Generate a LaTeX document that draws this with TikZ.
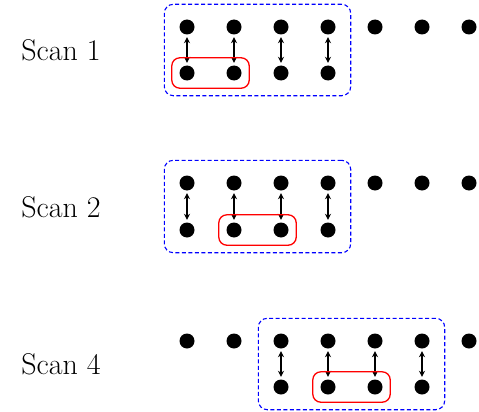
\documentclass[tikz,border=0pt]{standalone}
\usetikzlibrary{fit,arrows.meta}
\begin{document}
\begin{tikzpicture}[x=1pt,y=-1pt,
  dot/.style={circle,fill=black,draw=none,minimum size=15pt,inner sep=0pt},
  link/.style={{Stealth[length=6pt,width=6pt]}-{Stealth[length=6pt,width=6pt]},line width=1.5pt,shorten <=2.5pt,shorten >=2.5pt},
  scanbox/.style={draw=blue,dashed,dash pattern=on 4pt off 2.5pt,line width=1.1pt,rounded corners=9pt,inner sep=15pt},
  pairbox/.style={draw=red,line width=1.3pt,rounded corners=8pt,inner sep=7.5pt},
  lab/.style={font=\fontsize{30}{34}\selectfont,anchor=center}]
\useasboundingbox (0,0) rectangle (479,412);
% Scan 1
\node[lab] (l1) at (61,50) {Scan 1};
\foreach \i/\x in {1/187,2/234,3/281,4/328,5/375,6/422,7/469}
  \node[dot] (a\i) at (\x,27) {};
\foreach \i/\x in {1/187,2/234,3/281,4/328}
  \node[dot] (b\i) at (\x,73) {};
\foreach \i in {1,...,4} \draw[link] (a\i) -- (b\i);
\node[scanbox,fit=(a1)(b4)] (s1) {};
\node[pairbox,fit=(b1)(b2)] (r1) {};
% Scan 2
\node[lab] (l2) at (61,207) {Scan 2};
\foreach \i/\x in {1/187,2/234,3/281,4/328,5/375,6/422,7/469}
  \node[dot] (c\i) at (\x,183) {};
\foreach \i/\x in {1/187,2/234,3/281,4/328}
  \node[dot] (d\i) at (\x,230) {};
\foreach \i in {1,...,4} \draw[link] (c\i) -- (d\i);
\node[scanbox,fit=(c1)(d4)] (s2) {};
\node[pairbox,fit=(d2)(d3)] (r2) {};
% Scan 4
\node[lab] (l4) at (61,364) {Scan 4};
\foreach \i/\x in {1/187,2/234,3/281,4/328,5/375,6/422,7/469}
  \node[dot] (e\i) at (\x,341) {};
\foreach \i/\x in {3/281,4/328,5/375,6/422}
  \node[dot] (f\i) at (\x,387) {};
\foreach \i in {3,...,6} \draw[link] (e\i) -- (f\i);
\node[scanbox,fit=(e3)(f6)] (s4) {};
\node[pairbox,fit=(f4)(f5)] (r4) {};
\end{tikzpicture}
\end{document}
